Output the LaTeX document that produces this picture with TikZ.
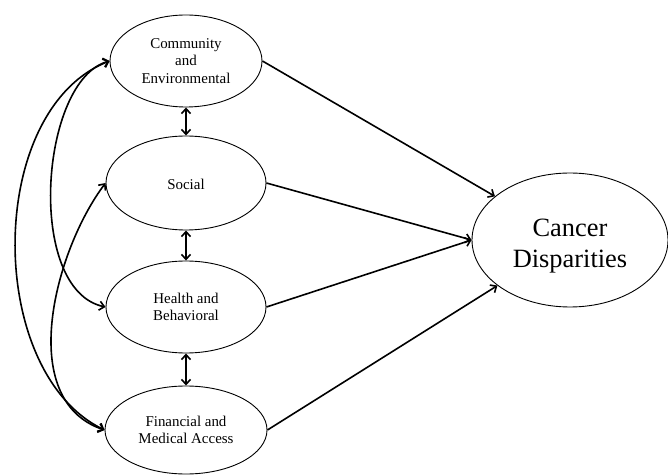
\documentclass[tikz,border=0pt]{standalone}
\usepackage{fontspec}
\setmainfont{Liberation Serif}
\usepackage{xcolor}
\usepackage{tikz}
\usetikzlibrary{shapes.geometric,arrows.meta}
\tikzset{
  factor/.style={ellipse, draw, line width=0.9bp, inner sep=0pt, align=center,
    font=\fontsize{15}{17.5}\selectfont},
  path/.style={line width=1.6bp, -{Straight Barb[length=5bp,width=9bp]}},
  corr/.style={line width=1.6bp, {Straight Barb[length=5bp,width=9bp]}-{Straight Barb[length=5bp,width=9bp]}}
}

\begin{document}
\begin{tikzpicture}[x=1bp,y=1bp]
    \useasboundingbox (0,0) rectangle (668,-475);
    \node[factor, minimum width=152bp, minimum height=92bp] (comm) at (186,-61)
      {Community\\and\\Environmental};
    \node[factor, minimum width=160bp, minimum height=94bp, text height=13bp] (soc) at (186,-183) {Social};
    \node[factor, minimum width=160bp, minimum height=92bp] (hlth) at (186,-307)
      {Health and\\Behavioral};
    \node[factor, minimum width=162bp, minimum height=88bp] (fin) at (186,-430)
      {Financial and\\Medical Access};
    \node[factor, minimum width=196bp, minimum height=134bp,
          font=\fontsize{26.5}{31}\selectfont, text height=60bp] (canc) at (570,-240) {Cancer\\Disparities};

    \draw[path] (comm.east) -- (canc);
    \draw[path] (soc.east) -- (canc.west);
    \draw[path] (hlth.east) -- (canc.west);
    \draw[path] (fin.east) -- (canc);

    \draw[corr] (comm.south) -- (soc.north);
    \draw[corr] (soc.south) -- (hlth.north);
    \draw[corr] (hlth.south) -- (fin.north);

    \draw[corr] (comm.west) .. controls (-15,-110) and (-15,-372) .. (fin.west);
    \draw[corr] (comm.west) .. controls (40,-80) and (25,-290) .. (hlth.west);
    \draw[corr] (soc.west) .. controls (55,-250) and (15,-400) .. (fin.west);
  \end{tikzpicture}
\end{document}
